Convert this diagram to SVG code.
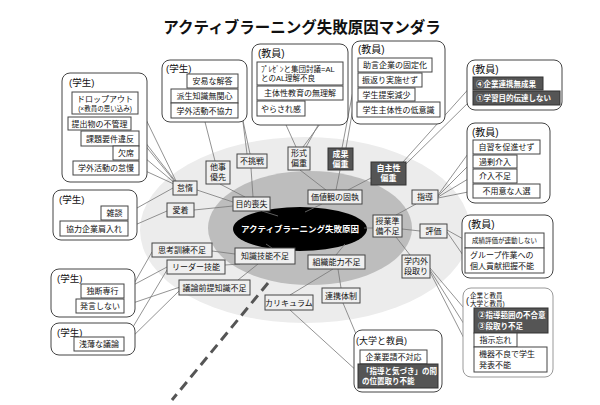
<svg xmlns="http://www.w3.org/2000/svg" width="600" height="405" viewBox="0 0 600 405">
<style>
text{font-family:"Liberation Sans","Noto Sans CJK JP",sans-serif;font-size:8px;fill:#111}
.c{text-anchor:middle}
.gl{font-size:9.5px}
.n rect{fill:#efefef;stroke:#444;stroke-width:1}
.l rect{fill:#fff;stroke:#444;stroke-width:1}
rect.d{fill:#555;stroke:#333;stroke-width:1}
text.w{fill:#fff;font-weight:bold}
.g{fill:#fff;stroke:#333;stroke-width:1.5}
.cn line{stroke:#777;stroke-width:0.8}
</style>
<rect width="600" height="405" fill="#fff"/>
<text x="302" y="33" class="c" style="font-size:15.5px;font-weight:bold">アクティブラーニング失敗原因マンダラ</text>
<ellipse cx="305" cy="230" rx="165" ry="93" fill="#ececec"/>
<ellipse cx="310" cy="228" rx="102" ry="57" fill="#bdbdbd"/>
<ellipse cx="300" cy="229" rx="67" ry="22" fill="#000"/>
<line x1="268" y1="283" x2="172" y2="400" stroke="#555" stroke-width="3" stroke-dasharray="10,6"/>
<g id="connectors" class="cn">
<line x1="262" y1="211" x2="278" y2="216"/>
<line x1="322" y1="204" x2="305" y2="212"/>
<line x1="373" y1="228" x2="364" y2="228"/>
<line x1="345" y1="244" x2="336" y2="255"/>
<line x1="272" y1="248" x2="266" y2="244"/>
<line x1="220" y1="184" x2="245" y2="197"/>
<line x1="251" y1="168" x2="253" y2="197"/>
<line x1="197" y1="190" x2="233" y2="202"/>
<line x1="194" y1="210" x2="233" y2="206"/>
<line x1="300" y1="170" x2="326" y2="190"/>
<line x1="340" y1="170" x2="336" y2="190"/>
<line x1="371" y1="178" x2="348" y2="190"/>
<line x1="416" y1="204" x2="396" y2="215"/>
<line x1="420" y1="231" x2="402" y2="229"/>
<line x1="410" y1="255" x2="396" y2="237"/>
<line x1="212" y1="251" x2="235" y2="254"/>
<line x1="225" y1="265" x2="240" y2="264"/>
<line x1="238" y1="280" x2="258" y2="264"/>
<line x1="290" y1="295" x2="333" y2="269"/>
<line x1="338" y1="269" x2="341" y2="288"/>
<line x1="343" y1="303" x2="356" y2="334"/>
<line x1="290" y1="310" x2="358" y2="372"/>
<line x1="138" y1="103" x2="176" y2="181"/>
<line x1="131" y1="124" x2="176" y2="182"/>
<line x1="139" y1="138" x2="176" y2="183"/>
<line x1="139" y1="153" x2="176" y2="184"/>
<line x1="139" y1="168" x2="176" y2="185"/>
<line x1="204" y1="118" x2="215" y2="161"/>
<line x1="238" y1="82" x2="247" y2="154"/>
<line x1="238" y1="97" x2="250" y2="154"/>
<line x1="282" y1="116" x2="296" y2="147"/>
<line x1="343" y1="93" x2="303" y2="147"/>
<line x1="343" y1="80" x2="306" y2="147"/>
<line x1="358" y1="65" x2="342" y2="148"/>
<line x1="358" y1="80" x2="346" y2="148"/>
<line x1="473" y1="84" x2="403" y2="162"/>
<line x1="473" y1="98" x2="406" y2="164"/>
<line x1="438" y1="195" x2="473" y2="147"/>
<line x1="438" y1="196" x2="473" y2="161"/>
<line x1="438" y1="197" x2="473" y2="176"/>
<line x1="438" y1="198" x2="473" y2="191"/>
<line x1="447" y1="230" x2="465" y2="240"/>
<line x1="447" y1="232" x2="465" y2="258"/>
<line x1="430" y1="268" x2="474" y2="320"/>
<line x1="430" y1="270" x2="474" y2="340"/>
<line x1="430" y1="272" x2="474" y2="358"/>
<line x1="128" y1="213" x2="173" y2="188"/>
<line x1="128" y1="228" x2="167" y2="211"/>
<line x1="152" y1="252" x2="124" y2="301"/>
<line x1="167" y1="267" x2="124" y2="290"/>
<line x1="167" y1="270" x2="124" y2="342"/>
<line x1="180" y1="287" x2="124" y2="306"/>
<line x1="180" y1="290" x2="124" y2="345"/>
</g>
<text x="300" y="232" class="c" style="font-size:8.5px;font-weight:bold;fill:#fff">アクティブラーニング失敗原因</text>
<g id="n-mokuteki" class="n"><rect x="233" y="197" width="37" height="14"/><text x="251.5" y="207" class="c">目的喪失</text></g>
<g id="n-kachikan" class="n"><rect x="308" y="190" width="54" height="14"/><text x="335" y="200" class="c">価値観の固執</text></g>
<g id="n-jugyo" class="n"><rect x="373" y="215" width="29" height="22"/><text x="387.5" y="224" class="c">授業準</text><text x="387.5" y="234" class="c">備不足</text></g>
<g id="n-soshiki" class="n"><rect x="308" y="255" width="57" height="14"/><text x="336.5" y="265" class="c">組織能力不足</text></g>
<g id="n-chishiki" class="n"><rect x="235" y="248" width="60" height="16"/><text x="265" y="259" class="c">知識技能不足</text></g>
<g id="n-taji" class="n"><rect x="206" y="161" width="24" height="23"/><text x="218" y="170" class="c">他事</text><text x="218" y="180" class="c">優先</text></g>
<g id="n-fuchosen" class="n"><rect x="237" y="154" width="30" height="14"/><text x="252" y="164" class="c">不挑戦</text></g>
<g id="n-keishiki" class="n"><rect x="288" y="147" width="22" height="23"/><text x="299" y="156" class="c">形式</text><text x="299" y="166" class="c">偏重</text></g>
<g id="n-seika"><rect x="328" y="148" width="25" height="22" class="d"/><text x="340.5" y="157" class="c w">成果</text><text x="340.5" y="167" class="c w">偏重</text></g>
<g id="n-jishusei"><rect x="371" y="162" width="35" height="23" class="d"/><text x="388.5" y="171" class="c w">自主性</text><text x="388.5" y="181" class="c w">偏重</text></g>
<g id="n-taida" class="n"><rect x="173" y="181" width="24" height="14"/><text x="185" y="191" class="c">怠惰</text></g>
<g id="n-aichaku" class="n"><rect x="167" y="203" width="27" height="14"/><text x="180.5" y="213" class="c">愛着</text></g>
<g id="n-shido" class="n"><rect x="412" y="190" width="26" height="14"/><text x="425" y="200" class="c">指導</text></g>
<g id="n-hyoka" class="n"><rect x="420" y="224" width="27" height="14"/><text x="433.5" y="234" class="c">評価</text></g>
<g id="n-dandori" class="n"><rect x="402" y="255" width="28" height="23"/><text x="416" y="264" class="c">学内外</text><text x="416" y="274" class="c">段取り</text></g>
<g id="n-shiko" class="n"><rect x="152" y="243" width="60" height="14"/><text x="182" y="253" class="c">思考訓練不足</text></g>
<g id="n-leader" class="n"><rect x="167" y="260" width="58" height="14"/><text x="196" y="270" class="c">リーダー技能</text></g>
<g id="n-giron" class="n"><rect x="179" y="280" width="71" height="15"/><text x="214.5" y="290.5" class="c">議論前提知識不足</text></g>
<g id="n-curriculum" class="n"><rect x="265" y="295" width="48" height="15"/><text x="289" y="305.5" class="c">カリキュラム</text></g>
<g id="n-renkei" class="n"><rect x="322" y="288" width="38" height="15"/><text x="341" y="298.5" class="c">連携体制</text></g>
<g id="grp-student1" class="l">
<rect x="62" y="73" width="85" height="109" rx="8" class="g"/>
<text x="69" y="86" class="gl">(学生)</text>
<rect x="72" y="92" width="66" height="22"/><text x="105" y="102" class="c">ドロップアウト</text><text x="105" y="111" class="c" style="font-size:6.5px">(×教員の思い込み)</text>
<rect x="68" y="117" width="63" height="13"/><text x="99.5" y="126.5" class="c">提出物の不管理</text>
<rect x="81" y="131" width="58" height="15"/><text x="110" y="141.5" class="c">課題要件違反</text>
<rect x="113" y="146" width="26" height="14"/><text x="126" y="156" class="c">欠席</text>
<rect x="73" y="161" width="66" height="14"/><text x="106" y="171" class="c">学外活動の怠慢</text>
</g>
<g id="grp-student2" class="l">
<rect x="162" y="60" width="85" height="62" rx="8" class="g"/>
<text x="166" y="72" class="gl">(学生)</text>
<rect x="187" y="74" width="51" height="14"/><text x="212.5" y="84" class="c">安易な解答</text>
<rect x="171" y="89" width="67" height="14"/><text x="204.5" y="99" class="c">派生知識無関心</text>
<rect x="171" y="103" width="67" height="15"/><text x="204.5" y="113.5" class="c">学外活動不協力</text>
</g>
<g id="grp-teacher1" class="l">
<rect x="252" y="44" width="96" height="81" rx="8" class="g"/>
<text x="258" y="57" class="gl" style="font-size:10px">(教員)</text>
<rect x="257" y="62" width="86" height="23"/><text x="261" y="71.5" style="font-size:7.5px">ﾌﾟﾚｾﾞﾝと集団討議=AL</text><text x="261" y="81" style="font-size:7.5px">とのAL理解不良</text>
<rect x="257" y="86" width="86" height="14"/><text x="300" y="96" class="c">主体性教育の無理解</text>
<rect x="257" y="101" width="48" height="15"/><text x="281" y="111.5" class="c">やらされ感</text>
</g>
<g id="grp-teacher2" class="l">
<rect x="352" y="41" width="93" height="83" rx="8" class="g"/>
<text x="358" y="53" class="gl" style="font-size:10px">(教員)</text>
<rect x="358" y="58" width="74" height="14"/><text x="395" y="68" class="c">助言企業の固定化</text>
<rect x="358" y="73" width="64" height="14"/><text x="390" y="83" class="c">振返り実施せず</text>
<rect x="358" y="88" width="57" height="13"/><text x="386.5" y="97.5" class="c">学生提案減少</text>
<rect x="357" y="102" width="83" height="15"/><text x="398.5" y="112.5" class="c">学生主体性の低意識</text>
</g>
<g id="grp-teacher3" class="l">
<rect x="467" y="60" width="95" height="50" rx="8" class="g"/>
<text x="472" y="73" class="gl" style="font-size:10px">(教員)</text>
<rect x="473" y="77" width="70" height="13" class="d"/><text x="476" y="86.5" class="w" style="font-size:7.5px">④企業連携無成果</text>
<rect x="473" y="91" width="87" height="14" class="d"/><text x="476" y="101" class="w" style="font-size:7.5px">①学習目的伝達しない</text>
</g>
<g id="grp-teacher4" class="l">
<rect x="467" y="123" width="83" height="80" rx="8" class="g"/>
<text x="472" y="136" class="gl" style="font-size:10px">(教員)</text>
<rect x="473" y="140" width="67" height="14"/><text x="506.5" y="150" class="c">自習を促進せず</text>
<rect x="473" y="155" width="44" height="13"/><text x="495" y="164.5" class="c">過剰介入</text>
<rect x="473" y="169" width="44" height="14"/><text x="495" y="179" class="c">介入不足</text>
<rect x="473" y="184" width="67" height="14"/><text x="506.5" y="194" class="c">不用意な人選</text>
</g>
<g id="grp-teacher5" class="l">
<rect x="462" y="215" width="91" height="63" rx="8" class="g"/>
<text x="468" y="228" class="gl" style="font-size:10px">(教員)</text>
<rect x="465" y="233" width="79" height="15"/><text x="504.5" y="243" class="c" style="font-size:6.5px">成績評価が連動しない</text>
<rect x="465" y="248" width="79" height="25"/><text x="470" y="258" >グループ作業への</text><text x="470" y="269">個人貢献把握不能</text>
</g>
<g id="grp-company" class="l">
<rect x="463" y="288" width="90" height="89" rx="8" class="g" style="stroke:#999"/>
<text x="466" y="304" style="font-size:9px">(</text>
<text x="470" y="298" style="font-size:6.5px">企業と教員</text>
<text x="470" y="306" style="font-size:6.5px">大学と教員)</text>
<rect x="474" y="308" width="74" height="25" class="d"/><text x="478" y="318" class="w" style="font-size:7.5px">②指導範囲の不合意</text><text x="478" y="329" class="w" style="font-size:7.5px">③段取り不足</text>
<rect x="474" y="333" width="43" height="14"/><text x="495.5" y="343" class="c">指示忘れ</text>
<rect x="474" y="347" width="73" height="25"/><text x="479" y="357">機器不良で学生</text><text x="479" y="368">発表不能</text>
</g>
<g id="grp-university" class="l">
<rect x="354" y="330" width="88" height="62" rx="8" class="g"/>
<text x="356" y="344" class="gl" style="font-size:9px">(大学と教員)</text>
<rect x="360" y="350" width="67" height="14"/><text x="393.5" y="360" class="c">企業要請不対応</text>
<rect x="358" y="364" width="80" height="24" class="d"/><text x="362" y="374" class="w" style="font-size:7.5px">「指導と気づき」の間</text><text x="362" y="384" class="w" style="font-size:7.5px">の位置取り不能</text>
</g>
<g id="grp-student3" class="l">
<rect x="53" y="190" width="84" height="50" rx="8" class="g"/>
<text x="59" y="203" class="gl">(学生)</text>
<rect x="101" y="206" width="27" height="14"/><text x="114.5" y="216" class="c">雑談</text>
<rect x="60" y="221" width="68" height="15"/><text x="94" y="231.5" class="c">協力企業肩入れ</text>
</g>
<g id="grp-student4" class="l">
<rect x="51" y="269" width="84" height="48" rx="8" class="g"/>
<text x="57" y="282" class="gl">(学生)</text>
<rect x="81" y="284" width="43" height="14"/><text x="102.5" y="294" class="c">独断専行</text>
<rect x="76" y="299" width="48" height="14"/><text x="100" y="309" class="c">発言しない</text>
</g>
<g id="grp-student5" class="l">
<rect x="51" y="323" width="84" height="32" rx="8" class="g"/>
<text x="57" y="336" class="gl">(学生)</text>
<rect x="74" y="337" width="50" height="14"/><text x="99" y="347" class="c">浅薄な議論</text>
</g>
</svg>
